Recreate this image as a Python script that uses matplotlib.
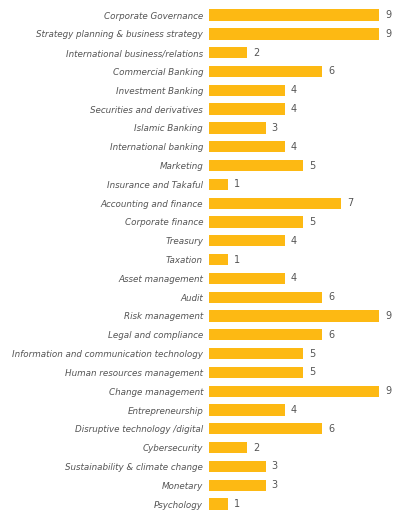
import matplotlib
matplotlib.use("Agg")
import matplotlib.pyplot as plt
import numpy as np

categories = [
    "Corporate Governance",
    "Strategy planning & business strategy",
    "International business/relations",
    "Commercial Banking",
    "Investment Banking",
    "Securities and derivatives",
    "Islamic Banking",
    "International banking",
    "Marketing",
    "Insurance and Takaful",
    "Accounting and finance",
    "Corporate finance",
    "Treasury",
    "Taxation",
    "Asset management",
    "Audit",
    "Risk management",
    "Legal and compliance",
    "Information and communication technology",
    "Human resources management",
    "Change management",
    "Entrepreneurship",
    "Disruptive technology /digital",
    "Cybersecurity",
    "Sustainability & climate change",
    "Monetary",
    "Psychology",
]
values = [9, 9, 2, 6, 4, 4, 3, 4, 5, 1, 7, 5, 4, 1, 4, 6, 9, 6, 5, 5, 9, 4, 6, 2, 3, 3, 1]

bar_color = "#FDB913"
text_color = "#555555"

fig = plt.figure(figsize=(3.96, 5.14), dpi=100)
ax = fig.add_axes([0.528, 0.001, 0.472, 0.988])

y = np.arange(len(categories))
ax.barh(y, values, height=0.6, color=bar_color)
for yi, v in zip(y, values):
    ax.text(v + 0.32, yi, str(v), va="center", ha="left", fontsize=7,
            color=text_color, family="Liberation Sans Narrow")

ax.set_ylim(len(categories) - 0.5, -0.5)
ax.set_xlim(0, 9.9)
ax.set_yticks(y)
ax.set_yticklabels(categories, fontsize=6.3, color=text_color,
                   family="Liberation Sans Narrow", style="italic")
ax.tick_params(axis="y", length=0, pad=4.3)
ax.set_xticks([])
for s in ax.spines.values():
    s.set_visible(False)

fig.savefig("out.png", dpi=100)
